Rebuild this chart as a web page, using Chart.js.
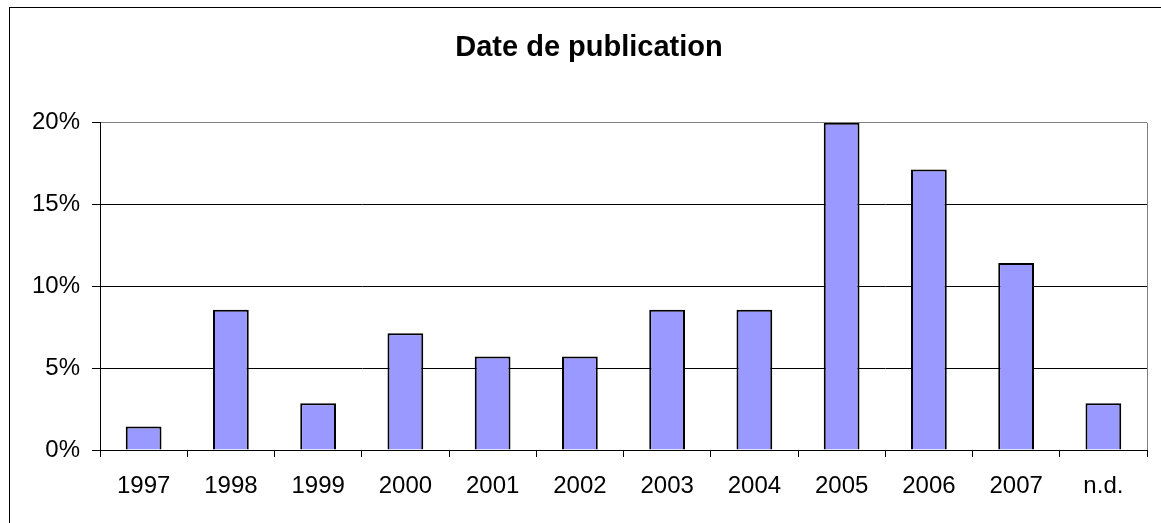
<!DOCTYPE html>
<html>
<head>
<meta charset="utf-8">
<script src="https://cdn.jsdelivr.net/npm/chart.js@4"></script>
<style>
    html, body { margin: 0; padding: 0; background: #fff; overflow: hidden; }
    #wrap { position: relative; width: 1161px; height: 523px; }
    #frame { position: absolute; left: 9px; top: 7px; width: 1170px; height: 530px; border: 1px solid #000; pointer-events: none; }
    canvas { position: absolute; left: 0; top: 0; }
</style>
</head>
<body>
<div id="wrap">
    <canvas id="chart" width="1161" height="523"></canvas>
    <div id="frame"></div>
</div>
<script>
// Categories and values (% of publications)
const years = ['1997', '1998', '1999', '2000', '2001', '2002', '2003', '2004', '2005', '2006', '2007', 'n.d.'];
const shares = [1.43, 8.57, 2.86, 7.14, 5.71, 5.71, 8.57, 8.57, 20.0, 17.14, 11.43, 2.86];
const yTicks = [0, 5, 10, 15, 20];

const FONT = "'Liberation Sans', Arial, sans-serif";

// gray border on the right side of the plot area
const plotBorder = {
    id: 'plotBorder',
    beforeDatasetsDraw(chart) {
        const { ctx, chartArea } = chart;
        ctx.save();
        ctx.strokeStyle = '#808080';
        ctx.lineWidth = 1;
        ctx.beginPath();
        ctx.moveTo(Math.round(chartArea.right) + 0.5, chartArea.top);
        ctx.lineTo(Math.round(chartArea.right) + 0.5, chartArea.bottom);
        ctx.stroke();
        ctx.restore();
    }
};

new Chart(document.getElementById('chart'), {
    type: 'bar',
    data: {
        labels: years,
        datasets: [{
            label: 'Date de publication',
            data: shares,
            backgroundColor: '#9999FF',
            borderColor: '#000000',
            borderWidth: 2,
            barPercentage: 0.41,
            categoryPercentage: 1.0
        }]
    },
    options: {
        responsive: false,
        animation: false,
        layout: { padding: { left: 31, right: 14, top: 0, bottom: 0 } },
        plugins: {
            legend: { display: false },
            tooltip: { enabled: false },
            title: {
                display: true,
                text: 'Date de publication',
                color: '#000',
                font: { family: FONT, size: 29, weight: 'bold' },
                padding: { top: 31, bottom: 57 }
            }
        },
        scales: {
            x: {
                grid: {
                    display: true,
                    drawOnChartArea: false,
                    offset: true,
                    tickLength: 7,
                    color: '#000',
                    tickColor: '#000'
                },
                border: { display: true, color: '#000', width: 1 },
                ticks: {
                    color: '#000',
                    font: { family: FONT, size: 24 },
                    padding: 15,
                    maxRotation: 0,
                    autoSkip: false
                },
                afterFit: scale => { scale.height = 73; }
            },
            y: {
                min: 0,
                max: 20,
                afterBuildTicks: scale => { scale.ticks = yTicks.map(v => ({ value: v })); },
                grid: {
                    color: c => (c.tick && c.tick.value === 20 ? '#808080' : '#000'),
                    tickColor: '#000',
                    tickLength: 8,
                    lineWidth: 1
                },
                border: { display: true, color: '#000', width: 1 },
                ticks: {
                    color: '#000',
                    font: { family: FONT, size: 24 },
                    padding: 12,
                    callback: v => v + '%'
                },
                afterFit: scale => { scale.width = 69; }
            }
        }
    },
    plugins: [plotBorder]
});
</script>
</body>
</html>
